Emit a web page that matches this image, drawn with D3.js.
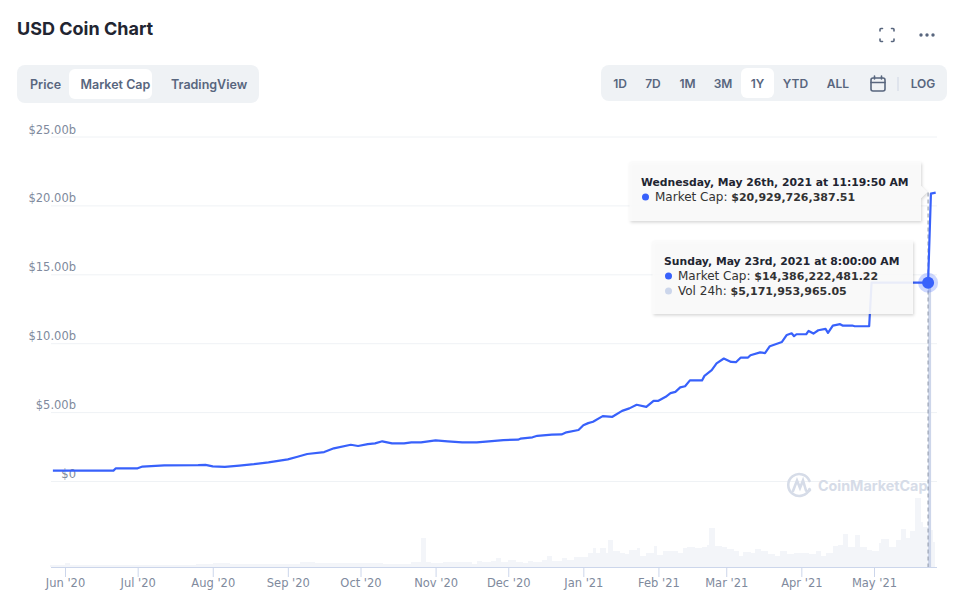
<!DOCTYPE html>
<html>
<head>
<meta charset="utf-8">
<script src="https://cdn.jsdelivr.net/npm/d3@7/dist/d3.min.js"></script>
<style>
html, body { margin: 0; padding: 0; background: #fff; }
svg { display: block; }
svg text { font-family: "DejaVu Sans", sans-serif; }
svg text.ui { font-family: Inter, sans-serif; font-weight: 600; fill: #58667e; }
</style>
</head>
<body>
<svg id="chart" width="953" height="598"></svg>
<script>
// DATA
var xTicks = ["2020-06-01", "2020-07-01", "2020-08-01", "2020-09-01", "2020-10-01", "2020-11-01",
    "2020-12-01", "2021-01-01", "2021-02-01", "2021-03-01", "2021-04-01", "2021-05-01"];
var yTicks = [0, 5, 10, 15, 20, 25];

var capDates = ["2020-05-27", "2020-06-21", "2020-06-22", "2020-07-01", "2020-07-03", "2020-07-12", "2020-07-26",
    "2020-07-29", "2020-08-01", "2020-08-06", "2020-08-12", "2020-08-18", "2020-08-24", "2020-09-01", "2020-09-05",
    "2020-09-09", "2020-09-16", "2020-09-20", "2020-09-27", "2020-09-30", "2020-10-04", "2020-10-07", "2020-10-10",
    "2020-10-14", "2020-10-19", "2020-10-22", "2020-10-26", "2020-11-01", "2020-11-06", "2020-11-12", "2020-11-18",
    "2020-11-23", "2020-11-29", "2020-12-05", "2020-12-06", "2020-12-11", "2020-12-13", "2020-12-19", "2020-12-23",
    "2020-12-25", "2020-12-30", "2021-01-01", "2021-01-03", "2021-01-05", "2021-01-09", "2021-01-13", "2021-01-17",
    "2021-01-20", "2021-01-23", "2021-01-27", "2021-01-30", "2021-02-01", "2021-02-04", "2021-02-06", "2021-02-08",
    "2021-02-10", "2021-02-12", "2021-02-14", "2021-02-19", "2021-02-20", "2021-02-23", "2021-02-25", "2021-02-28",
    "2021-03-03", "2021-03-05", "2021-03-07", "2021-03-10", "2021-03-11", "2021-03-15", "2021-03-17", "2021-03-19",
    "2021-03-24", "2021-03-26", "2021-03-28", "2021-03-29", "2021-03-30", "2021-04-03", "2021-04-04", "2021-04-06",
    "2021-04-08", "2021-04-11", "2021-04-12", "2021-04-14", "2021-04-17", "2021-04-18", "2021-04-22", "2021-04-23",
    "2021-04-29", "2021-04-30", "2021-05-23T08:00", "2021-05-24T12:00", "2021-05-26T11:19"];
var capValues = [0.75, 0.75, 0.92, 0.92, 1.05, 1.13, 1.15,
    1.17, 1.06, 1.03, 1.12, 1.22, 1.35, 1.57, 1.76,
    1.96, 2.1, 2.37, 2.63, 2.54, 2.68, 2.73, 2.88,
    2.73, 2.73, 2.8, 2.8, 2.95, 2.88, 2.8, 2.8,
    2.88, 2.97, 3.0, 3.07, 3.17, 3.28, 3.36, 3.38,
    3.53, 3.7, 4.04, 4.2, 4.3, 4.71, 4.66, 5.09,
    5.27, 5.53, 5.38, 5.82, 5.82, 6.11, 6.38, 6.47,
    6.79, 6.88, 7.3, 7.3, 7.63, 8.04, 8.53, 8.89,
    8.64, 8.62, 8.96, 8.96, 9.13, 9.33, 9.28, 9.78,
    10.09, 10.6, 10.72, 10.51, 10.65, 10.65, 10.89, 10.7,
    10.94, 11.04, 10.75, 11.28, 11.38, 11.28, 11.28, 11.23,
    11.23, 14.39, 14.39, 20.85, 20.93];

var volDates = ["2020-05-26", "2020-06-01", "2020-06-03", "2020-06-15", "2020-07-01", "2020-07-15", "2020-07-25",
    "2020-08-01", "2020-08-08", "2020-08-20", "2020-09-01", "2020-09-06", "2020-09-12", "2020-09-22", "2020-10-02",
    "2020-10-10", "2020-10-17", "2020-10-22", "2020-10-26", "2020-10-28", "2020-10-30", "2020-11-04", "2020-11-09",
    "2020-11-16", "2020-11-18", "2020-11-20", "2020-11-24", "2020-11-26", "2020-11-28", "2020-12-01", "2020-12-04",
    "2020-12-07", "2020-12-09", "2020-12-11", "2020-12-13", "2020-12-15", "2020-12-17", "2020-12-19", "2020-12-23",
    "2020-12-25", "2020-12-28", "2020-12-30", "2021-01-03", "2021-01-05", "2021-01-06", "2021-01-08", "2021-01-10",
    "2021-01-11", "2021-01-13", "2021-01-16", "2021-01-18", "2021-01-20", "2021-01-23", "2021-01-24", "2021-01-27",
    "2021-01-30", "2021-01-31", "2021-02-03", "2021-02-09", "2021-02-11", "2021-02-13", "2021-02-16", "2021-02-19",
    "2021-02-21", "2021-02-22", "2021-02-24", "2021-02-27", "2021-03-01", "2021-03-04", "2021-03-06", "2021-03-08",
    "2021-03-11", "2021-03-13", "2021-03-15", "2021-03-18", "2021-03-21", "2021-03-23", "2021-03-26", "2021-03-29",
    "2021-04-01", "2021-04-04", "2021-04-07", "2021-04-09", "2021-04-11", "2021-04-14", "2021-04-16", "2021-04-18",
    "2021-04-20", "2021-04-23", "2021-04-25", "2021-04-28", "2021-04-30", "2021-05-03", "2021-05-04", "2021-05-07",
    "2021-05-10", "2021-05-12", "2021-05-14", "2021-05-16", "2021-05-18", "2021-05-20", "2021-05-21", "2021-05-23",
    "2021-05-25", "2021-05-26"];
var volValues = [0.28, 0.56, 0.28, 0.21, 0.28, 0.28, 0.42,
    0.56, 0.35, 0.35, 0.42, 0.69, 0.56, 0.49, 0.56,
    0.42, 0.42, 0.69, 4.03, 0.69, 0.49, 0.69, 0.69,
    0.42, 0.83, 0.69, 0.9, 1.25, 0.69, 0.97, 0.69,
    0.56, 0.83, 0.69, 0.69, 0.97, 1.53, 0.83, 1.25,
    0.97, 1.39, 1.39, 1.94, 2.64, 1.94, 2.64, 1.94,
    3.75, 2.22, 1.94, 1.81, 2.36, 2.64, 1.53, 1.94,
    2.92, 1.67, 2.22, 1.94, 2.64, 2.78, 2.64, 2.78,
    3.06, 5.42, 2.92, 2.78, 2.5, 2.22, 1.53, 2.08,
    1.94, 2.5, 2.22, 1.81, 1.53, 2.22, 1.81, 1.94,
    1.94, 1.81, 2.22, 1.53, 1.94, 2.92, 3.06, 4.58,
    2.78, 4.44, 2.78, 2.36, 2.22, 3.33, 3.89, 2.78,
    3.75, 5.28, 4.03, 5.0, 9.58, 6.25, 5.56, 5.17,
    3.47, 3.47];

var leftTabs = ["Price", "Market Cap", "TradingView"];
var rightTabs = ["1D", "7D", "1M", "3M", "1Y", "YTD", "ALL", "LOG"];

var parseDay = d3.utcParse("%Y-%m-%d");
var parseStamp = d3.utcParse("%Y-%m-%dT%H:%M");
function toDate(s) { return parseDay(s) || parseStamp(s); }

var svg = d3.select("#chart");

// SCALES
var x = d3.scaleUtc().domain([toDate("2020-06-01"), toDate("2021-05-01")]).range([65, 874]);
var y = d3.scaleLinear().domain([0, 25]).range([481, 136.5]);
var yVol = d3.scaleLinear().domain([0, 9.58]).range([567, 498]);

// HEADER
svg.append("text").attr("class", "ui").attr("x", 17).attr("y", 35)
    .style("font-size", "18px").style("font-weight", 700).style("fill", "#222531").text("USD Coin Chart");

svg.append("rect").attr("x", 17).attr("y", 65).attr("width", 242).attr("height", 38).attr("rx", 8).attr("fill", "#eff2f5");
svg.append("rect").attr("x", 69).attr("y", 69).attr("width", 83).attr("height", 30).attr("rx", 6).attr("fill", "#fff");
var leftX = [30, 80.5, 171];
svg.selectAll(".ltab").data(leftTabs).join("text").attr("class", "ltab ui")
    .attr("x", function(d, i) { return leftX[i]; }).attr("y", 89).style("font-size", "12.5px").text(function(d) { return d; });

svg.append("rect").attr("x", 601).attr("y", 65).attr("width", 346).attr("height", 36).attr("rx", 8).attr("fill", "#eff2f5");
svg.append("rect").attr("x", 741).attr("y", 68).attr("width", 33).attr("height", 30).attr("rx", 6).attr("fill", "#fff");
var rightX = [620, 653, 687.5, 723, 757.5, 795.5, 838, 923];
svg.selectAll(".rtab").data(rightTabs).join("text").attr("class", "rtab ui")
    .attr("x", function(d, i) { return rightX[i]; }).attr("y", 88).attr("text-anchor", "middle")
    .style("font-size", "12px").text(function(d) { return d; });
svg.append("line").attr("x1", 898).attr("x2", 898).attr("y1", 77).attr("y2", 91).attr("stroke", "#cfd6e4");

// calendar, fullscreen and menu icons
var icons = svg.append("g").attr("fill", "none").attr("stroke", "#58667e").attr("stroke-width", 1.6).attr("stroke-linecap", "round");
icons.append("rect").attr("x", 871).attr("y", 78).attr("width", 14).attr("height", 13).attr("rx", 2);
icons.append("path").attr("d", "M871 82.5H885M874.5 76V79M881.5 76V79");
icons.append("path").attr("d", "M880 31V29.5A1 1 0 0 1 881 28.5H882.5M891.5 28.5H893A1 1 0 0 1 894 29.5V31M894 39V40.5A1 1 0 0 1 893 41.5H891.5M882.5 41.5H881A1 1 0 0 1 880 40.5V39");
[921, 927, 933].forEach(function(cx) {
    svg.append("circle").attr("cx", cx).attr("cy", 35).attr("r", 1.7).attr("fill", "#58667e");
});

// AXES
var yAxis = d3.axisLeft(y).tickValues(yTicks).tickSize(-886).tickPadding(-25)
    .tickFormat(function(d) { return d === 0 ? "$0" : "$" + d.toFixed(2) + "b"; });
var gy = svg.append("g").attr("transform", "translate(51,0)").call(yAxis);
gy.select(".domain").remove();
gy.selectAll("line").attr("stroke", "#eff2f5");
gy.selectAll("text").attr("dy", "-3.5").attr("fill", "#808a9d").style("font-size", "11.5px");

var xAxis = d3.axisBottom(x).tickValues(xTicks.map(toDate)).tickSize(10).tickSizeOuter(0).tickPadding(2)
    .tickFormat(d3.utcFormat("%b '%y"));
var gx = svg.append("g").attr("transform", "translate(0,567)").call(xAxis);
gx.select(".domain").attr("stroke", "#ccd6eb").attr("d", "M51,0.5H937");
gx.selectAll("line").attr("stroke", "#ccd6eb");
gx.selectAll("text").attr("fill", "#808a9d").style("font-size", "11.5px");

// VOLUME
var volStarts = volDates.map(toDate);
svg.append("g").attr("shape-rendering", "crispEdges").selectAll("rect").data(volValues.slice(0, -1)).join("rect")
    .attr("x", function(d, i) { return x(volStarts[i]); })
    .attr("width", function(d, i) { return x(volStarts[i + 1]) - x(volStarts[i]) + 0.5; })
    .attr("y", function(d) { return yVol(d); })
    .attr("height", function(d) { return 567 - yVol(d); })
    .attr("fill", "#f3f5f9");

// WATERMARK
var mark = svg.append("g").attr("fill", "none").attr("stroke", "#d6dce8").attr("stroke-width", 2.6).attr("stroke-linecap", "round");
mark.append("path").attr("d", "M809.5 489A11 11 0 1 1 809.5 481");
mark.append("path").attr("d", "M793 491L797 480.5L800 488L803 480.5L806 490.5C807 492 809 491.5 810 490");
svg.append("text").attr("x", 818).attr("y", 490.5).attr("fill", "#d6dce8")
    .style("font-family", "Inter, sans-serif").style("font-weight", 700).style("font-size", "14.3px").text("CoinMarketCap");

// CROSSHAIR
var hoverDate = toDate("2021-05-23T08:00");
var hx = x(hoverDate);
svg.append("rect").attr("x", hx).attr("y", y(14.39)).attr("width", 3).attr("height", 567 - y(14.39)).attr("fill", "#cdd6ea");
svg.append("line").attr("x1", hx).attr("x2", hx).attr("y1", y(20.93)).attr("y2", 567)
    .attr("stroke", "#9aa3b5").attr("stroke-width", 1.2).attr("stroke-dasharray", "4,3");

// MARKET CAP LINE
var capPoints = capDates.map(function(d, i) { return [toDate(d), capValues[i]]; });
var capLine = d3.line().x(function(d) { return x(d[0]); }).y(function(d) { return y(d[1]); });
svg.append("path").datum(capPoints).attr("d", capLine)
    .attr("fill", "none").attr("stroke", "#3861fb").attr("stroke-width", 2.2).attr("stroke-linejoin", "round");

// TOOLTIPS
var defs = svg.append("defs");
defs.append("filter").attr("id", "tipShadow").attr("x", "-5%").attr("y", "-10%").attr("width", "110%").attr("height", "125%")
    .append("feDropShadow").attr("dx", 1).attr("dy", 1.5).attr("stdDeviation", 1.5)
    .attr("flood-color", "#000").attr("flood-opacity", 0.18);

function tooltip(box, arrow, title, rows) {
    var g = svg.append("g");
    var p = "M" + box.x + " " + box.y + "H" + (box.x + box.w);
    if (arrow) p += "V" + (arrow - 6) + "L" + (box.x + box.w + 6) + " " + arrow + "L" + (box.x + box.w) + " " + (arrow + 6);
    p += "V" + (box.y + box.h) + "H" + box.x + "Z";
    g.append("path").attr("d", p).attr("fill", "#fbfbfb").attr("fill-opacity", 0.9).attr("filter", "url(#tipShadow)");
    g.append("text").attr("x", box.x + 11.5).attr("y", box.y + 24).attr("fill", "#222531")
        .style("font-size", "10.8px").style("font-weight", 700).text(title);
    rows.forEach(function(r, i) {
        var by = box.y + 39 + i * 15;
        g.append("circle").attr("cx", box.x + 16).attr("cy", by - 4).attr("r", 3.5).attr("fill", r.color);
        var t = g.append("text").attr("x", box.x + 25.5).attr("y", by).attr("fill", "#333");
        t.append("tspan").style("font-size", "12px").text(r.label + ": ");
        t.append("tspan").style("font-size", "11px").style("font-weight", 700).text(r.value);
    });
}

tooltip({x: 629.5, y: 162, w: 291.5, h: 59}, 192, "Wednesday, May 26th, 2021 at 11:19:50 AM",
    [{label: "Market Cap", value: "$20,929,726,387.51", color: "#3861fb"}]);
tooltip({x: 652.5, y: 241, w: 260.5, h: 73}, null, "Sunday, May 23rd, 2021 at 8:00:00 AM",
    [{label: "Market Cap", value: "$14,386,222,481.22", color: "#3861fb"},
     {label: "Vol 24h", value: "$5,171,953,965.05", color: "#ccd6eb"}]);

// HOVER POINT
svg.append("circle").attr("cx", hx).attr("cy", y(14.39)).attr("r", 10).attr("fill", "#3861fb").attr("fill-opacity", 0.25);
svg.append("circle").attr("cx", hx).attr("cy", y(14.39)).attr("r", 6).attr("fill", "#3861fb");
</script>
</body>
</html>
